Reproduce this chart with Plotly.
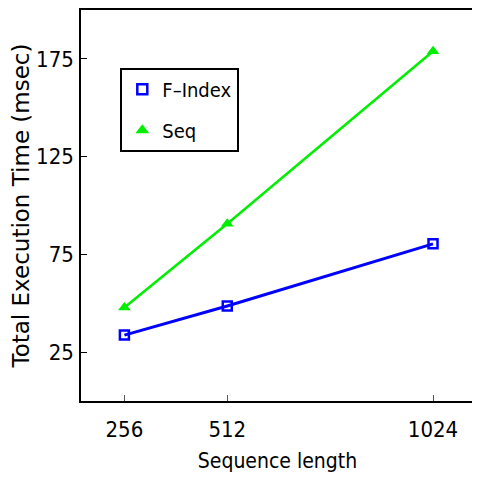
import plotly.graph_objects as go

seq_len = [256, 512, 1024]
findex_ms = [33.7, 48.6, 80.4]
seq_ms = [47.8, 90.7, 178.9]
x_ticks = [256, 512, 1024]
y_ticks = [25, 75, 125, 175]

NARROW = "DejaVu Sans Condensed, Liberation Sans, sans-serif"
BLUE = "#0000ff"
GREEN = "#00ee00"

fig = go.Figure()
fig.add_trace(go.Scatter(
    x=seq_len, y=findex_ms, mode="lines+markers", showlegend=False,
    line=dict(color=BLUE, width=3),
    marker=dict(symbol="square-open", size=9, color=BLUE, line=dict(width=2.5, color=BLUE)),
))
fig.add_trace(go.Scatter(
    x=seq_len, y=seq_ms, mode="lines+markers", showlegend=False,
    line=dict(color=GREEN, width=2.5),
    marker=dict(symbol="triangle-up", size=11, color=GREEN),
))
# legend entries (markers only, as in the reference)
fig.add_trace(go.Scatter(
    x=[None], y=[None], mode="markers", name="F\u2013Index", legendgroup="a",
    marker=dict(symbol="square-open", size=10, color=BLUE, line=dict(width=2.5, color=BLUE)),
))
fig.add_trace(go.Scatter(
    x=[None], y=[None], mode="markers", name="Seq", legendgroup="b",
    marker=dict(symbol="triangle-up", size=12, color=GREEN),
))

# page body has an 8px margin: figure is offset by 8px
fig.update_layout(
    width=472, height=473,
    margin=dict(l=73, r=6, t=2, b=80, autoexpand=False),
    paper_bgcolor="white", plot_bgcolor="white",
    showlegend=True,
    legend=dict(
        x=0.1, y=0.852, xanchor="left", yanchor="top",
        bordercolor="black", borderwidth=2,
        font=dict(family=NARROW, size=20, color="black"),
        traceorder="grouped", tracegroupgap=12,
        itemwidth=30,
    ),
    font=dict(family=NARROW, color="black"),
)
fig.update_xaxes(
    range=[148, 1126], tickvals=x_ticks, ticktext=[str(v) for v in x_ticks],
    ticks="inside", ticklen=6, tickcolor="#555", tickwidth=1,
    showline=True, linecolor="black", linewidth=1.5, mirror=True,
    showgrid=False, zeroline=False, automargin=False,
    ticklabelstandoff=8,
    tickfont=dict(family=NARROW, size=22, color="black"),
    title=dict(text="Sequence length", font=dict(family=NARROW, size=21, color="black"), standoff=12),
)
fig.update_yaxes(
    range=[0, 200], tickvals=y_ticks, ticktext=[str(v) for v in y_ticks],
    ticks="inside", ticklen=6, tickcolor="black", tickwidth=1,
    showline=True, linecolor="black", linewidth=1.5, mirror=True,
    showgrid=False, zeroline=False, automargin=False,
    ticklabelstandoff=1,
    tickfont=dict(family=NARROW, size=22, color="black"),
    title=dict(text="Total Execution Time (msec)", font=dict(family="DejaVu Sans", size=23, color="black"), standoff=10),
)

fig.write_html("out.html")
